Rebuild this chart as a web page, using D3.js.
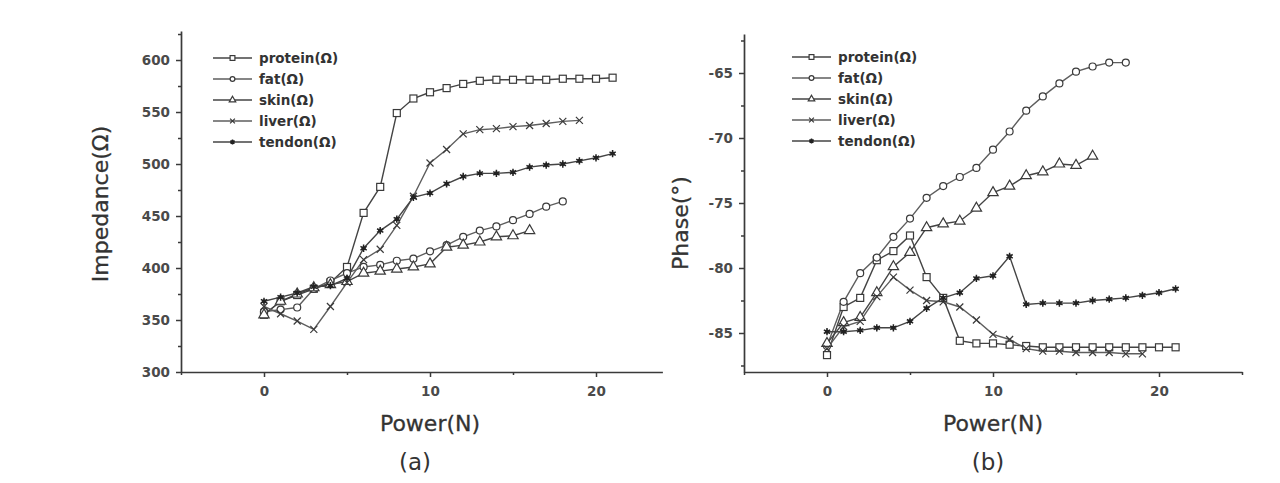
<!DOCTYPE html>
<html>
<head>
<meta charset="utf-8">
<script src="https://cdn.jsdelivr.net/npm/d3@7"></script>
<style>
  body { margin: 0; background: #fff; }
  svg { display: block; font-family: "DejaVu Sans", sans-serif; }
</style>
</head>
<body>
<div id="chart"></div>
<script>
// series names, shared by both panels
var seriesNames = ["protein(Ω)", "fat(Ω)", "skin(Ω)", "liver(Ω)", "tendon(Ω)"];
var seriesKeys = ["protein", "fat", "skin", "liver", "tendon"];

// (a) impedance vs power, x = 0,1,2,...
var impProtein = [355, 368, 374, 380, 386, 401, 453, 478, 549, 563, 569, 573, 577, 580, 581, 581, 581, 581, 582, 582, 582, 583];
var impFat     = [358, 360, 362, 380, 388, 395, 401, 403, 407, 409, 416, 422, 430, 436, 440, 446, 452, 459, 464];
var impSkin    = [355, 368, 375, 381, 384, 387, 395, 397, 399, 401, 404, 420, 422, 425, 430, 431, 436];
var impLiver   = [363, 356, 349, 341, 363, 386, 408, 418, 441, 469, 501, 514, 529, 533, 534, 536, 537, 539, 541, 542];
var impTendon  = [368, 372, 376, 382, 383, 390, 419, 436, 447, 468, 472, 481, 488, 491, 491, 492, 497, 499, 500, 503, 506, 510];

// (b) phase vs power
var phProtein = [-86.7, -83.0, -82.3, -79.4, -78.7, -77.5, -80.7, -82.3, -85.6, -85.8, -85.8, -85.9, -86.0, -86.1, -86.1, -86.1, -86.1, -86.1, -86.1, -86.1, -86.1, -86.1];
var phFat     = [-86.0, -82.6, -80.4, -79.2, -77.6, -76.2, -74.6, -73.7, -73.0, -72.3, -70.9, -69.5, -67.9, -66.8, -65.8, -64.9, -64.5, -64.2, -64.2];
var phSkin    = [-85.8, -84.2, -83.8, -81.9, -79.9, -78.8, -76.9, -76.6, -76.4, -75.4, -74.2, -73.7, -72.9, -72.6, -72.0, -72.1, -71.4];
var phLiver   = [-86.2, -84.5, -84.1, -82.2, -80.7, -81.7, -82.5, -82.6, -83.0, -84.0, -85.1, -85.5, -86.2, -86.4, -86.4, -86.5, -86.5, -86.5, -86.6, -86.6];
var phTendon  = [-84.9, -84.9, -84.8, -84.6, -84.6, -84.1, -83.1, -82.3, -81.9, -80.8, -80.6, -79.1, -82.8, -82.7, -82.7, -82.7, -82.5, -82.4, -82.3, -82.1, -81.9, -81.6];

// tick labels
var xTicks = [0, 10, 20];
var impTicks = [300, 350, 400, 450, 500, 550, 600];
var phTicks = [-85, -80, -75, -70, -65];

var W = 1280, H = 483;
var svg = d3.select("#chart").append("svg")
  .attr("width", W).attr("height", H);

var ink = "#3a3a3a";

function marker(g, key, size) {
  var s = size;
  if (key === "protein") {
    g.append("rect").attr("x", -s).attr("y", -s).attr("width", 2 * s).attr("height", 2 * s)
      .attr("fill", "#fff").attr("stroke", ink).attr("stroke-width", 1.2);
  } else if (key === "fat") {
    g.append("circle").attr("r", s).attr("fill", "#fff").attr("stroke", ink).attr("stroke-width", 1.2);
  } else if (key === "skin") {
    g.append("path").attr("d", d3.symbol(d3.symbolTriangle, s * s * 3.2)())
      .attr("fill", "#fff").attr("stroke", ink).attr("stroke-width", 1.2);
  } else if (key === "liver") {
    g.append("path").attr("d", "M" + (-s) + "," + (-s) + "L" + s + "," + s + "M" + (-s) + "," + s + "L" + s + "," + (-s))
      .attr("stroke", ink).attr("stroke-width", 1.2);
  } else {
    g.append("path").attr("d", d3.symbol(d3.symbolAsterisk, s * s * 3)())
      .attr("stroke", "#222").attr("stroke-width", 1.5);
    g.append("circle").attr("r", s * 0.6).attr("fill", "#222");
  }
}

function drawPanel(p) {
  var x = d3.scaleLinear().domain(p.xDomain).range(p.xRange);
  var y = d3.scaleLinear().domain(p.yDomain).range(p.yRange);
  var g = svg.append("g");

  // x axis
  g.append("g").attr("transform", "translate(0," + p.yRange[0] + ")")
    .call(d3.axisBottom(x).tickValues(xTicks).tickSize(5).tickSizeOuter(0).tickPadding(9));
  g.append("g").attr("transform", "translate(0," + p.yRange[0] + ")")
    .call(d3.axisBottom(x).tickValues(p.xMinor).tickSize(3).tickSizeOuter(0).tickFormat(""))
    .select(".domain").remove();

  // y axis
  g.append("g").attr("transform", "translate(" + p.xRange[0] + ",0)")
    .call(d3.axisLeft(y).tickValues(p.yTicks).tickSize(5).tickSizeOuter(0).tickPadding(6)
      .tickFormat(function (d) { return String(d); }));
  g.append("g").attr("transform", "translate(" + p.xRange[0] + ",0)")
    .call(d3.axisLeft(y).tickValues(p.yMinor).tickSize(3).tickSizeOuter(0).tickFormat(""))
    .select(".domain").remove();

  g.selectAll(".domain").attr("stroke", ink).attr("stroke-width", 1.7);
  g.selectAll(".tick line").attr("stroke", ink).attr("stroke-width", 1.5);
  g.selectAll(".tick text").attr("fill", "#4a4a4a").attr("font-size", 13.5).attr("font-weight", "bold")
    .attr("font-family", "DejaVu Sans, sans-serif");

  // titles
  g.append("text").attr("x", (x(0) + x(20)) / 2).attr("y", p.yRange[0] + 59)
    .attr("text-anchor", "middle").attr("font-size", 22).attr("fill", "#333")
    .attr("stroke", "#333").attr("stroke-width", 0.3).text("Power(N)");
  g.append("text").attr("x", p.capX).attr("y", p.yRange[0] + 98)
    .attr("text-anchor", "middle").attr("font-size", 23).attr("fill", "#333").text(p.cap);
  g.append("text")
    .attr("transform", "translate(" + p.yTitleX + "," + p.yTitleY + ") rotate(-90)")
    .attr("text-anchor", "middle").attr("font-size", 22).attr("fill", "#333")
    .attr("stroke", "#333").attr("stroke-width", 0.3).text(p.yTitle);

  // series
  var line = d3.line().x(function (d, i) { return x(i); }).y(function (d) { return y(d); });
  p.series.forEach(function (vals, k) {
    var key = seriesKeys[k];
    g.append("path").datum(vals).attr("d", line).attr("fill", "none")
      .attr("stroke", key === "fat" || key === "liver" ? "#5e5e5e" : "#444")
      .attr("stroke-width", 1.4);
  });
  p.series.forEach(function (vals, k) {
    var key = seriesKeys[k];
    g.selectAll(null).data(vals).enter().append("g")
      .attr("transform", function (d, i) { return "translate(" + x(i) + "," + y(d) + ")"; })
      .each(function () { marker(d3.select(this), key, key === "skin" ? 3.8 : 3.5); });
  });

  // legend
  var lg = g.append("g").attr("transform", "translate(" + p.legX + "," + p.legY + ")");
  seriesNames.forEach(function (name, k) {
    var row = lg.append("g").attr("transform", "translate(0," + (k * 21) + ")");
    row.append("line").attr("x1", 0).attr("x2", 39).attr("stroke", k === 1 || k === 3 ? "#5e5e5e" : "#444")
      .attr("stroke-width", 1.5);
    var m = row.append("g").attr("transform", "translate(19.5,0)");
    marker(m, seriesKeys[k], 2.4);
    row.append("text").attr("x", 46).attr("y", 5).attr("font-size", 13.5).attr("font-weight", "bold")
      .attr("fill", "#333").text(name);
  });
}

drawPanel({
  xDomain: [-5, 24], xRange: [181, 662.4],
  yDomain: [300, 628], yRange: [372, 30.9],
  xMinor: [-5, 5, 15],
  yTicks: impTicks, yMinor: [325, 375, 425, 475, 525, 575, 625],
  yTitle: "Impedance(Ω)", yTitleX: 108, yTitleY: 204,
  cap: "(a)", capX: 415,
  legX: 213, legY: 58,
  series: [impProtein, impFat, impSkin, impLiver, impTendon]
});

drawPanel({
  xDomain: [-5, 25], xRange: [744, 1242],
  yDomain: [-88, -62], yRange: [372, 34],
  xMinor: [-5, 5, 15, 25],
  yTicks: phTicks, yMinor: [-87.5, -82.5, -77.5, -72.5, -67.5, -62.5],
  yTitle: "Phase(°)", yTitleX: 688, yTitleY: 223,
  cap: "(b)", capX: 988,
  legX: 792, legY: 57,
  series: [phProtein, phFat, phSkin, phLiver, phTendon]
});
</script>
</body>
</html>
